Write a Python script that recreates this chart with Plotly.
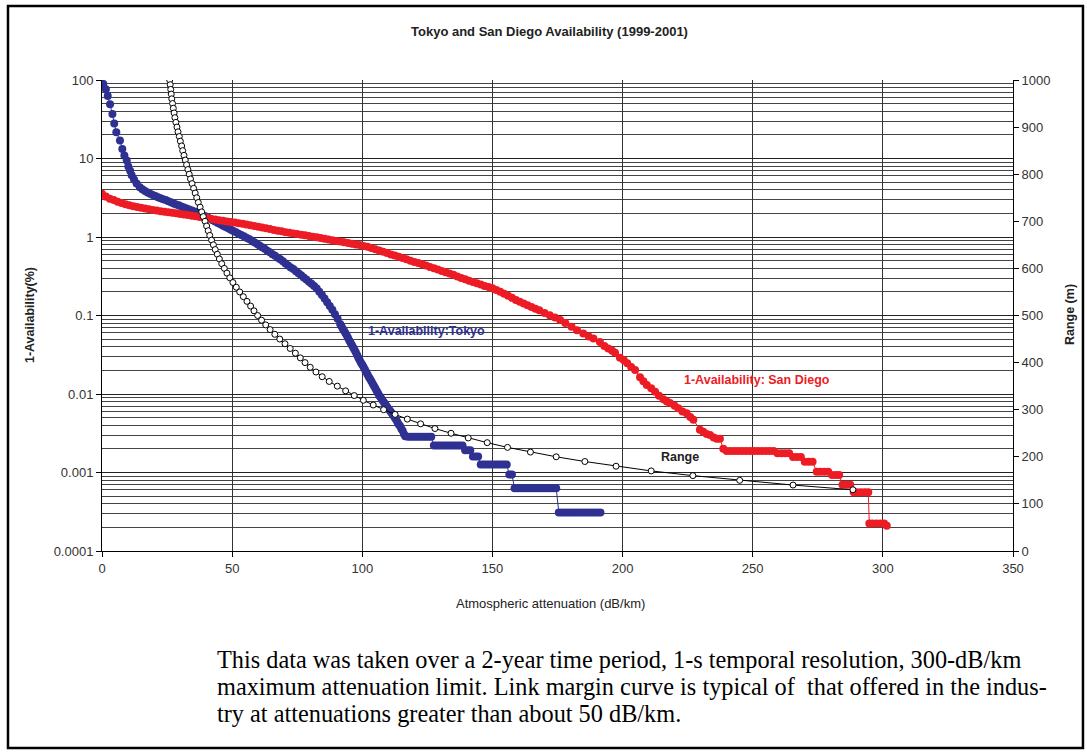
import plotly.graph_objects as go

BLUE = "#2E3192"
RED = "#ED1C24"

# ---- Tokyo: 1-Availability (%) vs attenuation (dB/km)
tokyo_x = [0.5, 1.5, 2.2, 3.1, 4.0, 4.7, 5.5, 6.9, 7.8, 8.6, 9.5, 10.1, 10.8, 11.4, 12.3, 13.3,
           14.5, 15.5, 16.5, 17.5, 18.5, 19.5, 20.5, 21.5, 22.5, 23.5, 24.5, 25.5, 26.5, 27.5,
           28.5, 29.5, 30.5, 31.5, 32.5, 33.5, 34.5, 35.5, 36.5, 37.5, 38.5, 39.5, 40.5, 41.5,
           42.5, 43.5, 44.5, 45.5, 46.5, 47.5, 48.5, 49.5, 50.5, 51.5, 52.5, 53.5, 54.5, 55.5,
           56.5, 57.5, 58.5, 59.5, 60.5, 61.5, 62.5, 63.5, 64.5, 65.5, 66.5, 67.5, 68.5, 69.5,
           70.5, 71.5, 72.5, 73.5, 74.5, 75.5, 76.5, 77.5, 78.5, 79.5, 80.5, 81.5, 82.5, 83.5,
           84.5, 85.5, 86.5, 87.5, 88.5, 89.5, 90.5, 91.5, 92.0, 92.5, 93.0, 93.5, 94.0, 94.5,
           95.0, 95.5, 96.0, 96.5, 97.0, 97.5, 98.0, 98.5, 99.0, 99.5, 100.0, 100.5, 101.0,
           101.5, 102.0, 102.5, 103.0, 103.5, 104.0, 104.5, 105.0, 105.5, 106.0, 106.5, 107.0,
           107.5, 108.0, 108.5, 109.0, 109.5, 110.0, 110.5, 111.0, 111.5, 112.0, 112.5, 113.0,
           113.5, 114.0, 114.5, 115.0, 115.5, 116.0, 116.5,
           117.5, 118.5, 119.5, 120.5, 121.5, 122.5, 123.5, 124.5, 125.5, 126.5,
           127.5, 128.5, 129.5, 130.5, 131.5, 132.5, 133.5, 134.5, 135.5, 136.5, 137.5, 138.5,
           139.5, 140.5, 141.5, 142.5, 143.5, 144.5,
           145.5, 146.5, 147.5, 148.5, 149.5, 150.5, 151.5, 152.5, 153.5, 154.5, 155.5,
           156.5, 157.5,
           158.5, 159.5, 160.5, 161.5, 162.5, 163.5, 164.5, 165.5, 166.5, 167.5, 168.5, 169.5,
           170.5, 171.5, 172.5, 173.5, 174.5,
           175.5, 176.5, 177.5, 178.5, 179.5, 180.5, 181.5, 182.5, 183.5, 184.5, 185.5, 186.5,
           187.5, 188.5, 189.5, 190.5, 191.5]
tokyo_y = [89, 76, 62.5, 49, 37, 28, 21.6, 16.9, 13.2, 10.9, 9.4, 7.9, 7.0, 6.1, 5.4, 4.8,
           4.3, 4.05, 3.85, 3.7, 3.55, 3.43, 3.32, 3.22, 3.12, 3.03, 2.95, 2.86, 2.77, 2.68,
           2.6, 2.53, 2.45, 2.38, 2.31, 2.24, 2.18, 2.11, 2.05, 1.98, 1.91, 1.85, 1.78, 1.71,
           1.64, 1.57, 1.51, 1.45, 1.39, 1.34, 1.29, 1.24, 1.19, 1.15, 1.1, 1.06, 1.02, 0.98,
           0.94, 0.9, 0.86, 0.82, 0.78, 0.74, 0.71, 0.67, 0.64, 0.605, 0.575, 0.545, 0.52, 0.49,
           0.46, 0.435, 0.41, 0.39, 0.365, 0.345, 0.325, 0.305, 0.287, 0.27, 0.253, 0.237, 0.22, 0.2,
           0.182, 0.165, 0.148, 0.132, 0.118, 0.104, 0.091, 0.078, 0.073, 0.068, 0.064, 0.06, 0.056, 0.052,
           0.048, 0.045, 0.042, 0.039, 0.0365, 0.034, 0.0315, 0.029, 0.027, 0.025, 0.0235, 0.022, 0.0205,
           0.019, 0.0177, 0.0165, 0.0155, 0.0145, 0.0135, 0.0126, 0.0118, 0.011, 0.0103, 0.0096, 0.0091,
           0.0086, 0.0081, 0.0077, 0.0073, 0.0069, 0.0065, 0.0062, 0.0059, 0.0056, 0.0053, 0.005, 0.0047,
           0.0044, 0.0041, 0.0039, 0.0036, 0.0034, 0.0031, 0.0029,
           0.00286, 0.00286, 0.00286, 0.00286, 0.00286, 0.00286, 0.00286, 0.00286, 0.00286, 0.00286,
           0.0022, 0.0022, 0.0022, 0.0022, 0.0022, 0.0022, 0.0022, 0.0022, 0.0022, 0.0022, 0.0022, 0.0022,
           0.00192, 0.00192, 0.00192, 0.0016, 0.0016, 0.0016,
           0.00126, 0.00126, 0.00126, 0.00126, 0.00126, 0.00126, 0.00126, 0.00126, 0.00126, 0.00126, 0.00126,
           0.00094, 0.00094,
           0.00063, 0.00063, 0.00063, 0.00063, 0.00063, 0.00063, 0.00063, 0.00063, 0.00063, 0.00063,
           0.00063, 0.00063, 0.00063, 0.00063, 0.00063, 0.00063, 0.00063,
           0.00031, 0.00031, 0.00031, 0.00031, 0.00031, 0.00031, 0.00031, 0.00031, 0.00031, 0.00031,
           0.00031, 0.00031, 0.00031, 0.00031, 0.00031, 0.00031, 0.00031]

# ---- San Diego: 1-Availability (%) vs attenuation (dB/km)
sd_x = [0, 1.5, 3, 4.5, 6, 7.5, 9, 10.5, 12, 13.5, 15, 16.5, 18, 19.5, 21, 22.5, 24, 25.5, 27,
        28.5, 30, 31.5, 33, 34.5, 36, 37.5, 39, 40.5, 42, 43.5, 45, 46.5, 48, 49.5, 51, 52.5, 54,
        55.5, 57, 58.5, 60, 61.5, 63, 64.5, 66, 67.5, 69, 70.5, 72, 73.5, 75, 76.5, 78, 79.5, 81,
        82.5, 84, 85.5, 87, 88.5, 90, 91.5, 93, 94.5, 96, 97.5, 99, 100.5, 102, 103.5, 105, 106.5,
        108, 109.5, 111, 112.5, 114, 115.5, 117, 118.5, 120, 121.5, 123, 124.5, 126, 127.5, 129,
        130.5, 132, 133.5, 135, 136.5, 138, 139.5, 141, 142.5, 144, 145.5, 147, 148.5, 150, 151.5,
        153, 154.5, 156, 157.5, 159, 160.5, 162, 163.5, 165, 166.5, 168,
        170, 172, 174, 176, 178, 180.4, 182.5, 184.9, 187, 188.8, 191.3, 193, 194.5, 196, 197.1,
        199, 200.5, 201.8, 203.3, 204.8, 206.7, 208, 209.3, 211, 212.5, 214, 215.7, 217, 218.2,
        220, 221.4, 223, 224.6, 226, 227.2, 229.7, 231, 232.3, 233.6, 235, 236.2, 237.4, 238.7,
        240, 241.5, 243, 244.5, 246, 247.5, 249, 250.5, 252, 253.5, 255, 256.5, 258,
        259.5, 261, 262.5, 264, 265.5, 267, 268.5, 270, 271.5, 273,
        274.6, 276, 277.5, 279, 280.5, 282, 283.2, 284.5, 286, 287.5,
        288.8, 290, 291.5, 293, 294.4, 294.8, 296, 297.5, 299, 300.5, 301.5]
sd_y = [3.55, 3.28, 3.08, 2.95, 2.82, 2.71, 2.62, 2.54, 2.47, 2.41, 2.36, 2.3, 2.25, 2.21, 2.17,
        2.13, 2.1, 2.06, 2.03, 2.0, 1.96, 1.93, 1.9, 1.87, 1.84, 1.8, 1.77, 1.74, 1.7, 1.67, 1.64,
        1.61, 1.58, 1.55, 1.53, 1.5, 1.47, 1.44, 1.41, 1.38, 1.35, 1.32, 1.29, 1.26, 1.23, 1.2, 1.18,
        1.15, 1.13, 1.11, 1.09, 1.07, 1.05, 1.03, 1.01, 0.99, 0.97, 0.95, 0.93, 0.91, 0.89, 0.875,
        0.86, 0.84, 0.82, 0.805, 0.79, 0.77, 0.75, 0.725, 0.7, 0.675, 0.65, 0.625, 0.6, 0.58, 0.56,
        0.54, 0.52, 0.5, 0.48, 0.465, 0.45, 0.432, 0.415, 0.4, 0.385, 0.37, 0.355, 0.342, 0.33,
        0.315, 0.3, 0.289, 0.278, 0.268, 0.258, 0.248, 0.238, 0.23, 0.222, 0.211, 0.2, 0.189,
        0.178, 0.168, 0.158, 0.15, 0.142, 0.135, 0.128, 0.122, 0.117,
        0.108, 0.101, 0.094, 0.0877, 0.08, 0.072, 0.065, 0.059, 0.054, 0.051,
        0.046, 0.041, 0.038, 0.0355, 0.0336, 0.029, 0.027, 0.0246, 0.022, 0.0202, 0.0163, 0.0145,
        0.013, 0.0118, 0.0107, 0.0095, 0.0086, 0.008, 0.0077, 0.0071, 0.0066, 0.006, 0.0057,
        0.0051, 0.0047, 0.0035, 0.0033, 0.0031, 0.003, 0.0028, 0.0027, 0.0027, 0.002,
        0.00188, 0.00188, 0.00188, 0.00188, 0.00188, 0.00188, 0.00188, 0.00188, 0.00188, 0.00188,
        0.00188, 0.00188, 0.00188,
        0.00176, 0.00176, 0.00176, 0.00176, 0.00158, 0.00158, 0.00158, 0.00137, 0.00137, 0.00137,
        0.00102, 0.00102, 0.00102, 0.00102, 0.00093, 0.00093, 0.00093, 0.0007, 0.0007, 0.0007,
        0.00056, 0.00056, 0.00056, 0.00056, 0.00056, 0.000224, 0.000224, 0.000224, 0.000224,
        0.000224, 0.00021]

# ---- Range (m) vs attenuation (dB/km), right axis
range_m = [1000, 990, 980, 970, 960, 950, 940, 930, 920, 910, 900, 890, 880, 870, 860, 850,
           840, 830, 820, 810, 800, 790, 780, 770, 760, 750, 740, 730, 720, 710, 700, 690,
           680, 670, 660, 650, 640, 630, 620, 610, 600, 590, 580, 570, 560, 550, 540, 530,
           520, 510, 500, 490, 480, 470, 460, 450, 440, 430, 420, 410, 400, 390, 380, 370,
           360, 350, 340, 330, 320, 310, 300, 290, 280, 270, 260, 250, 240, 230, 220, 210,
           200, 190, 180, 170, 160, 150, 140, 130]
range_x = [26.0, 26.2, 26.4, 26.6, 26.8, 27.1, 27.4, 27.7, 28.0, 28.4, 28.8, 29.2, 29.7, 30.1,
           30.6, 31.0, 31.5, 32.0, 32.5, 33.0, 33.5, 34.0, 34.6, 35.2, 35.8, 36.4, 37.0, 37.7,
           38.3, 38.9, 39.6, 40.2, 40.8, 41.4, 42.1, 42.8, 43.5, 44.3, 45.1, 46.0, 47.0, 48.0,
           49.1, 50.3, 51.6, 52.9, 54.3, 55.7, 57.1, 58.4, 59.8, 61.3, 62.9, 64.6, 66.4, 68.3,
           70.3, 72.3, 74.3, 76.2, 78.0, 80.0, 82.2, 84.6, 87.3, 90.4, 93.6, 96.9, 100.4, 104.2,
           108.2, 112.6, 117.3, 122.4, 127.9, 134.1, 140.7, 148.0, 155.8, 164.6, 174.5, 185.5,
           197.5, 211.0, 227.0, 245.0, 265.5, 288.5]

left_tickvals = [0.0001, 0.001, 0.01, 0.1, 1, 10, 100]
left_ticktext = ["0.0001", "0.001", "0.01", "0.1", "1", "10", "100"]
minor_vals = [k * 10.0 ** e for e in range(-4, 2) for k in range(2, 10)]

SANS = "Liberation Sans, Arial, sans-serif"

fig = go.Figure()
fig.add_trace(go.Scatter(x=tokyo_x, y=tokyo_y, mode="lines+markers", name="1-Availability:Tokyo",
                         line=dict(color=BLUE, width=1), marker=dict(size=8, color=BLUE)))
fig.add_trace(go.Scatter(x=sd_x, y=sd_y, mode="lines+markers", name="1-Availability: San Diego",
                         line=dict(color=RED, width=1), marker=dict(size=8, color=RED)))
fig.add_trace(go.Scatter(x=range_x, y=range_m, yaxis="y2", mode="lines+markers", name="Range",
                         line=dict(color="black", width=1),
                         marker=dict(size=6, color="white", line=dict(color="black", width=1))))

fig.update_layout(
    width=1087, height=753,
    margin=dict(l=102, r=74, t=80, b=202),
    paper_bgcolor="white", plot_bgcolor="white",
    showlegend=False,
    font=dict(family=SANS, size=13, color="#333"),
    xaxis=dict(range=[0, 350], tick0=0, dtick=50, ticks="outside", ticklen=5, tickcolor="black",
               showline=True, linecolor="black", linewidth=1, showgrid=True, gridcolor="#333",
               gridwidth=1, zeroline=False, tickfont=dict(size=13, color="#333")),
    yaxis=dict(type="log", range=[-4, 2], tickmode="array", tickvals=left_tickvals,
               ticktext=left_ticktext, ticks="outside", ticklen=5, tickcolor="black",
               showline=True, linecolor="black", linewidth=1, showgrid=True, gridcolor="#222",
               gridwidth=1, zeroline=False, tickfont=dict(size=13, color="#333"),
               minor=dict(tickmode="array", tickvals=minor_vals, showgrid=True,
                          gridcolor="#444", gridwidth=1, ticks="")),
    yaxis2=dict(overlaying="y", side="right", range=[0, 1000], tick0=0, dtick=100,
                ticks="outside", ticklen=5, tickcolor="black", showline=True, linecolor="black",
                linewidth=1, showgrid=False, zeroline=False, tickfont=dict(size=13, color="#333")),
)

def ann(text, x, y, size=13, bold=False, color="#222", angle=0, family=SANS, xanchor="center"):
    fig.add_annotation(text=("<b>%s</b>" % text) if bold else text, xref="paper", yref="paper",
                       x=x, y=y, showarrow=False, textangle=angle, xanchor=xanchor,
                       yanchor="middle", font=dict(family=family, size=size, color=color))

ann("Tokyo and San Diego Availability (1999-2001)", 0.4907, 1.102, size=13, bold=True)
ann("1-Availability(%)", -0.079, 0.501, size=12.5, bold=True, angle=-90)
ann("Range (m)", 1.0626, 0.501, size=12.5, bold=True, angle=-90)
ann("Atmospheric attenuation (dB/km)", 0.4918, -0.1125, size=13)
ann("1-Availability:Tokyo", 0.3567, 0.467, size=12.5, bold=True, color=BLUE)
ann("1-Availability: San Diego", 0.719, 0.363, size=12.5, bold=True, color=RED)
ann("Range", 0.6345, 0.1996, size=12.5, bold=True, color="#222")

SERIF = "Liberation Serif, Times New Roman, serif"
caption = [
    "This data was taken over a 2-year time period, 1-s temporal resolution, 300-dB/km",
    "maximum attenuation limit. Link margin curve is typical of  that offered in the indus-",
    "try at attenuations greater than about 50 dB/km.",
]
for i, line in enumerate(caption):
    ann(line, 0.124, -0.2314 - 0.0573 * i, size=24.3, color="black", family=SERIF, xanchor="left")

fig.add_shape(type="rect", xref="paper", yref="paper", x0=-0.1032, x1=1.0768, y0=-0.418, y1=1.157,
              line=dict(color="black", width=2.5), fillcolor="rgba(0,0,0,0)", layer="below")

fig.write_html("out.html", config={"displayModeBar": False},
               post_script="document.body.style.margin='0px';")
